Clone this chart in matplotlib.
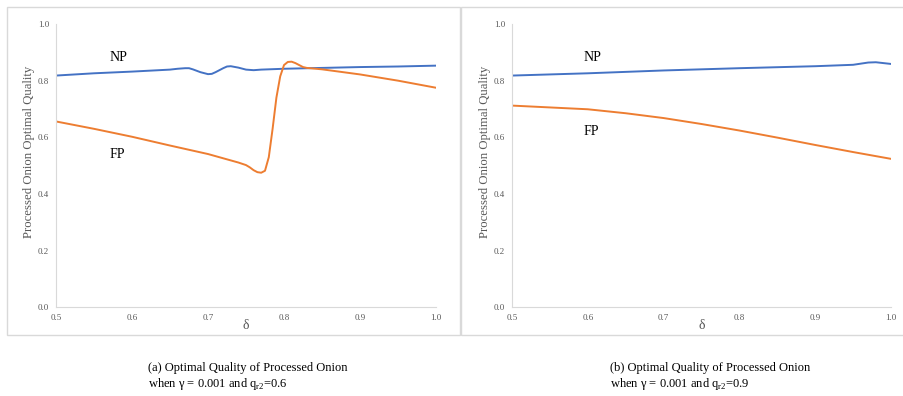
import matplotlib.pyplot as plt
from matplotlib.patches import Rectangle

# panel (a): gamma = 0.001, qr2 = 0.6
a_np_x = [0.50, 0.55, 0.60, 0.65, 0.66, 0.67, 0.675, 0.68, 0.69, 0.70, 0.705, 0.71, 0.72,
          0.725, 0.73, 0.74, 0.75, 0.76, 0.77, 0.80, 0.85, 0.90, 0.95, 1.00]
a_np_y = [0.818, 0.826, 0.832, 0.839, 0.842, 0.844, 0.844, 0.840, 0.830, 0.823, 0.824, 0.830,
          0.844, 0.850, 0.851, 0.846, 0.839, 0.837, 0.839, 0.842, 0.845, 0.848, 0.850, 0.853]
a_fp_x = [0.50, 0.55, 0.60, 0.65, 0.70, 0.74, 0.75, 0.755, 0.76, 0.765, 0.77, 0.775, 0.78,
          0.785, 0.79, 0.795, 0.80, 0.805, 0.81, 0.815, 0.82, 0.825, 0.83, 0.85, 0.90, 0.95, 1.00]
a_fp_y = [0.656, 0.630, 0.602, 0.571, 0.541, 0.511, 0.502, 0.494, 0.484, 0.477, 0.475, 0.482, 0.53,
          0.63, 0.74, 0.815, 0.855, 0.866, 0.867, 0.862, 0.855, 0.848, 0.845, 0.840, 0.822, 0.800, 0.775]

# panel (b): gamma = 0.001, qr2 = 0.9
b_np_x = [0.50, 0.60, 0.70, 0.80, 0.90, 0.95, 0.96, 0.97, 0.98, 0.99, 1.00]
b_np_y = [0.818, 0.826, 0.836, 0.844, 0.851, 0.856, 0.860, 0.864, 0.865, 0.862, 0.859]
b_fp_x = [0.50, 0.60, 0.65, 0.70, 0.75, 0.80, 0.85, 0.90, 0.95, 1.00]
b_fp_y = [0.712, 0.699, 0.685, 0.668, 0.647, 0.624, 0.599, 0.573, 0.548, 0.524]

x_ticks = [0.5, 0.6, 0.7, 0.8, 0.9, 1.0]
y_ticks = [0.0, 0.2, 0.4, 0.6, 0.8, 1.0]

captions = ["(a) Optimal Quality of Processed Onion\nwhen \u03b3 = 0.001 and q$_{\\mathregular{r2}}$=0.6",
            "(b) Optimal Quality of Processed Onion\nwhen \u03b3 = 0.001 and q$_{\\mathregular{r2}}$=0.9"]

plt.rcParams['font.family'] = ['Liberation Serif', 'DejaVu Serif']
plt.rcParams['mathtext.fontset'] = 'custom'
plt.rcParams['mathtext.rm'] = 'Liberation Serif'

blue = '#4472C4'
orange = '#ED7D31'
grey = '#595959'

fig = plt.figure(figsize=(9.04, 3.96), dpi=100)

# panel frames
for x0, w in [(7 / 904, 453 / 904), (461 / 904, 450 / 904)]:
    fig.patches.append(Rectangle((x0, 1 - 335 / 396), w, 328 / 396, transform=fig.transFigure,
                                 fill=False, edgecolor='#d9d9d9', linewidth=1))

panels = [
    (56, 436, a_np_x, a_np_y, a_fp_x, a_fp_y, (0.571, 0.88), (0.571, 0.54)),
    (512, 891, b_np_x, b_np_y, b_fp_x, b_fp_y, (0.594, 0.88), (0.594, 0.622)),
]
caption_x = [148, 610]

for i, (px0, px1, nx, ny, fx, fy, np_pos, fp_pos) in enumerate(panels):
    ax = fig.add_axes([px0 / 904, 1 - 307.3 / 396, (px1 - px0) / 904, 283.3 / 396])
    ax.plot(nx, ny, color=blue, linewidth=1.4, solid_joinstyle='round')
    ax.plot(fx, fy, color=orange, linewidth=1.4, solid_joinstyle='round')
    ax.set_xlim(0.5, 1.0)
    ax.set_ylim(0.0, 1.0)
    ax.set_xticks(x_ticks)
    ax.set_yticks(y_ticks)
    ax.set_xticklabels([f"{t:.1f}" for t in x_ticks])
    ax.set_yticklabels([f"{t:.1f}" for t in y_ticks])
    ax.tick_params(length=0, labelsize=6.5, labelcolor=grey, pad=5)
    for s in ['top', 'right']:
        ax.spines[s].set_visible(False)
    for s in ['left', 'bottom']:
        ax.spines[s].set_color('#d9d9d9')
    ax.set_ylabel("Processed Onion Optimal Quality", fontsize=9.2, color=grey)
    ax.yaxis.set_label_coords(-0.055, 0.55)
    ax.set_xlabel("\u03b4", fontsize=10, color=grey, labelpad=-2)
    ax.text(np_pos[0], np_pos[1], "NP", fontsize=10, ha='left', va='center')
    ax.text(fp_pos[0], fp_pos[1], "FP", fontsize=10, ha='left', va='center')
    fig.text(caption_x[i] / 904, 1 - 362 / 396, captions[i], fontsize=9,
             ha='left', va='top', linespacing=1.2)

fig.savefig('out.png', dpi=100)
